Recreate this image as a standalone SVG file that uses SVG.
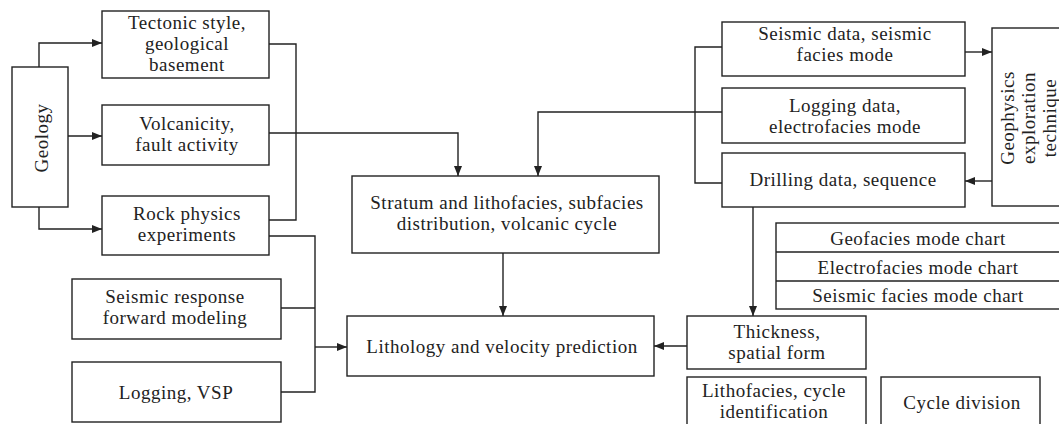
<svg xmlns="http://www.w3.org/2000/svg" width="1059" height="424" viewBox="0 0 1059 424">
<defs>
<marker id="ah" markerWidth="10" markerHeight="8" refX="10" refY="4" orient="auto" markerUnits="userSpaceOnUse">
<path d="M0,0 L10,4 L0,8 Z" fill="#222"/>
</marker>
<style>
.box{fill:#fff;stroke:#222;stroke-width:1.4}
.t{font-family:'Liberation Serif','Times New Roman',serif;font-size:19px;letter-spacing:0.5px;fill:#222;text-anchor:middle}
.ln{fill:none;stroke:#222;stroke-width:1.4}
.ar{fill:none;stroke:#222;stroke-width:1.4;marker-end:url(#ah)}
</style>
</defs>
<rect width="1059" height="424" fill="#fff"/>
<g id="connectors">
<path class="ar" d="M39,67 V43 H102"/>
<path class="ar" d="M68,136 H102"/>
<path class="ar" d="M39,207 V229 H102"/>
<path class="ln" d="M269,44 H296 V220 H269"/>
<path class="ar" d="M269,133 H458 V176"/>
<path class="ln" d="M269,236 H315 V392 H281"/>
<path class="ln" d="M281,308 H315"/>
<path class="ar" d="M315,347 H347"/>
<path class="ar" d="M503,253 V316"/>
<path class="ar" d="M687,346 H654"/>
<path class="ln" d="M722,47 H695 V183 H722"/>
<path class="ar" d="M722,112 H538 V176"/>
<path class="ar" d="M965,52 H992"/>
<path class="ar" d="M992,181 H965"/>
<path class="ar" d="M753,207 V316"/>
</g>
<g id="geology"><rect class="box" x="12" y="67" width="56" height="140"/><text class="t" transform="translate(48,138) rotate(-90)">Geology</text></g>
<g id="tectonic"><rect class="box" x="102" y="11" width="167" height="67"/><text class="t" x="187" y="29">Tectonic style,</text><text class="t" x="187" y="50">geological</text><text class="t" x="187" y="71">basement</text></g>
<g id="volcanicity"><rect class="box" x="102" y="105" width="167" height="60"/><text class="t" x="187" y="130">Volcanicity,</text><text class="t" x="187" y="151">fault activity</text></g>
<g id="rockphysics"><rect class="box" x="102" y="196" width="167" height="59"/><text class="t" x="187" y="220">Rock physics</text><text class="t" x="187" y="241">experiments</text></g>
<g id="seismicresponse"><rect class="box" x="72" y="279" width="209" height="60"/><text class="t" x="175" y="303">Seismic response</text><text class="t" x="175" y="324">forward modeling</text></g>
<g id="loggingvsp"><rect class="box" x="72" y="362" width="209" height="60"/><text class="t" x="176" y="399">Logging, VSP</text></g>
<g id="stratum"><rect class="box" x="352" y="176" width="307" height="77"/><text class="t" x="507" y="209">Stratum and lithofacies, subfacies</text><text class="t" x="507" y="230">distribution, volcanic cycle</text></g>
<g id="lithology"><rect class="box" x="347" y="316" width="307" height="60"/><text class="t" x="502" y="353">Lithology and velocity prediction</text></g>
<g id="seismicdata"><rect class="box" x="722" y="22" width="243" height="54"/><text class="t" x="845" y="40">Seismic data, seismic</text><text class="t" x="845" y="61">facies mode</text></g>
<g id="loggingdata"><rect class="box" x="722" y="88" width="243" height="55"/><text class="t" x="845" y="112">Logging data,</text><text class="t" x="845" y="133">electrofacies mode</text></g>
<g id="drilling"><rect class="box" x="722" y="153" width="243" height="54"/><text class="t" x="843" y="186">Drilling data, sequence</text></g>
<g id="geophysics"><rect class="box" x="992" y="28" width="72" height="178"/><text class="t" transform="translate(1014,118) rotate(-90)">Geophysics</text><text class="t" transform="translate(1035,118) rotate(-90)">exploration</text><text class="t" transform="translate(1056,118) rotate(-90)">technique</text></g>
<g id="charts"><rect class="box" x="776" y="223" width="290" height="86"/><path class="ln" d="M776,252 H1066 M776,281 H1066"/><text class="t" x="918" y="245">Geofacies mode chart</text><text class="t" x="918" y="274">Electrofacies mode chart</text><text class="t" x="918" y="302">Seismic facies mode chart</text></g>
<g id="thickness"><rect class="box" x="687" y="316" width="179" height="53"/><text class="t" x="777" y="338">Thickness,</text><text class="t" x="777" y="359">spatial form</text></g>
<g id="lithofacies"><rect class="box" x="687" y="377" width="179" height="60"/><text class="t" x="774" y="397">Lithofacies, cycle</text><text class="t" x="774" y="418">identification</text></g>
<g id="cycledivision"><rect class="box" x="881" y="377" width="159" height="60"/><text class="t" x="962" y="409">Cycle division</text></g>
</svg>
